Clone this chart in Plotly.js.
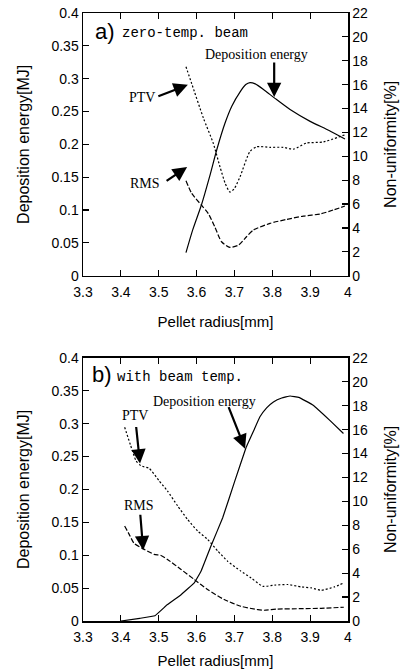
<!DOCTYPE html>
<html>
<head>
<meta charset="utf-8">
<script src="https://cdn.plot.ly/plotly-3.0.1.min.js"></script>
<style>html,body{margin:0;padding:0;background:#fff;}#chart{width:401px;height:670px;}</style>
</head>
<body>
<div id="chart"></div>
<script>
// ---- Panel a) zero-temp. beam ----
var aDepX = [3.572, 3.590, 3.613, 3.635, 3.653, 3.675, 3.693, 3.715, 3.730, 3.741, 3.755, 3.780, 3.807, 3.847, 3.900, 3.950, 3.992];
var aDepY = [0.035, 0.070, 0.108, 0.152, 0.191, 0.232, 0.258, 0.280, 0.291, 0.294, 0.292, 0.282, 0.270, 0.253, 0.235, 0.221, 0.208];
var aPtvX = [3.572, 3.587, 3.618, 3.644, 3.662, 3.676, 3.688, 3.700, 3.715, 3.741, 3.759, 3.794, 3.829, 3.856, 3.890, 3.935, 3.992];
var aPtvY = [17.5, 16.1, 13.2, 11.1, 9.1, 7.7, 7.0, 7.3, 8.3, 10.4, 10.8, 10.75, 10.75, 10.6, 11.1, 11.2, 11.8];
var aRmsX = [3.572, 3.587, 3.613, 3.631, 3.648, 3.666, 3.688, 3.711, 3.732, 3.750, 3.794, 3.838, 3.882, 3.926, 3.961, 3.992];
var aRmsY = [7.95, 6.9, 5.9, 5.2, 4.1, 2.84, 2.37, 2.56, 3.26, 3.82, 4.38, 4.71, 4.99, 5.16, 5.5, 5.83];

// ---- Panel b) with beam temp. ----
var bDepX = [3.400, 3.450, 3.490, 3.523, 3.559, 3.594, 3.612, 3.638, 3.669, 3.700, 3.731, 3.753, 3.767, 3.785, 3.803, 3.825, 3.847, 3.870, 3.908, 3.952, 3.988];
var bDepY = [0.000, 0.004, 0.008, 0.025, 0.040, 0.058, 0.076, 0.114, 0.157, 0.211, 0.264, 0.292, 0.310, 0.324, 0.333, 0.339, 0.342, 0.340, 0.328, 0.305, 0.285];
var bPtvX = [3.410, 3.426, 3.440, 3.453, 3.475, 3.501, 3.523, 3.550, 3.576, 3.603, 3.629, 3.656, 3.682, 3.717, 3.744, 3.775, 3.806, 3.841, 3.876, 3.903, 3.929, 3.964, 3.989];
var bPtvY = [16.2, 14.66, 13.4, 12.98, 12.76, 11.72, 10.88, 9.62, 8.5, 7.52, 6.83, 5.85, 5.0, 4.17, 3.6, 2.9, 3.0, 3.05, 2.85, 2.77, 2.57, 2.85, 3.19];
var bRmsX = [3.410, 3.422, 3.435, 3.462, 3.488, 3.506, 3.523, 3.559, 3.594, 3.629, 3.673, 3.717, 3.762, 3.779, 3.814, 3.876, 3.929, 3.989];
var bRmsY = [7.94, 7.24, 6.49, 5.99, 5.57, 5.48, 5.15, 4.31, 3.47, 2.63, 1.79, 1.23, 0.95, 0.90, 1.00, 1.03, 1.06, 1.15];

var xTitle = 'Pellet radius[mm]';
var yLeftTitle = 'Deposition energy[MJ]';
var yRightTitle = 'Non-uniformity[%]';
var panelTags = ['a)', 'b)'];
var panelNames = ['zero-temp. beam', 'with beam temp.'];

function ln(dash, sm) {
  var o = {color: '#000', width: 1.2, shape: 'spline', smoothing: sm};
  if (dash) o.dash = dash;
  return o;
}

var traces = [
  {x: aDepX, y: aDepY, xaxis: 'x', yaxis: 'y', mode: 'lines', line: ln(null, 0.6)},
  {x: aPtvX, y: aPtvY, xaxis: 'x', yaxis: 'y2', mode: 'lines', line: ln('2px,2px', 0.6)},
  {x: aRmsX, y: aRmsY, xaxis: 'x', yaxis: 'y2', mode: 'lines', line: ln('5px,2px', 0.6)},
  {x: bDepX, y: bDepY, xaxis: 'x2', yaxis: 'y3', mode: 'lines', line: ln(null, 0.2)},
  {x: bPtvX, y: bPtvY, xaxis: 'x2', yaxis: 'y4', mode: 'lines', line: ln('2px,2px', 0.5)},
  {x: bRmsX, y: bRmsY, xaxis: 'x2', yaxis: 'y4', mode: 'lines', line: ln('5px,2px', 0.5)}
];

var tickFont = {family: 'Liberation Sans, Arial, sans-serif', size: 14, color: '#000'};
var titleFont = {family: 'Liberation Sans, Arial, sans-serif', size: 15, color: '#000'};
var yTitleFont = {family: 'Liberation Sans, Arial, sans-serif', size: 16, color: '#000'};

function xAx(anchor, standoff) {
  return {anchor: anchor, range: [3.3, 4], dtick: 0.1, tick0: 3.3, ticks: 'inside', ticklen: 6,
    tickwidth: 1.2, tickcolor: '#000', showline: true, linecolor: '#000', linewidth: 1.5,
    mirror: 'ticks', showgrid: false, zeroline: false, tickfont: tickFont, ticklabelstandoff: 3,
    title: {text: xTitle, font: titleFont, standoff: standoff}};
}
function yLeft(anchor, domain) {
  return {anchor: anchor, domain: domain, range: [0, 0.4], dtick: 0.05, ticks: 'inside', ticklen: 6,
    tickwidth: 1.2, tickcolor: '#000', showline: true, linecolor: '#000', linewidth: 1.5,
    showgrid: false, zeroline: false, tickfont: tickFont,
    title: {text: yLeftTitle, font: yTitleFont, standoff: 18}};
}
function yRight(over, anchor) {
  return {overlaying: over, anchor: anchor, side: 'right', range: [0, 22], dtick: 2, ticks: 'inside', ticklen: 6,
    tickwidth: 1.2, tickcolor: '#000', showline: true, linecolor: '#000', linewidth: 1.5,
    showgrid: false, zeroline: false, tickfont: tickFont,
    title: {text: yRightTitle, font: yTitleFont, standoff: 17}};
}

var serif = {family: 'Liberation Serif, Times New Roman, serif', size: 14, color: '#000'};
var mono = {family: 'Liberation Mono, DejaVu Sans Mono, monospace', size: 14, color: '#000'};
var big = {family: 'Liberation Sans, Arial, sans-serif', size: 22, color: '#000'};

function arrow(xr, yr, x, y, ax, ay) {
  return {xref: xr, yref: yr, x: x, y: y, ax: ax, ay: ay, text: '', showarrow: true,
    arrowhead: 2, arrowsize: 1.3, arrowwidth: 2.2, arrowcolor: '#000', standoff: 0, startstandoff: 0};
}
function label(xr, yr, x, y, txt, font, xanchor) {
  return {xref: xr, yref: yr, x: x, y: y, text: txt, showarrow: false, font: font,
    xanchor: xanchor || 'center', yanchor: 'middle'};
}

var annotations = [
  label('x', 'y', 3.3264, 0.372, panelTags[0], big, 'left'),
  label('x', 'y', 3.3977, 0.370, panelNames[0], mono, 'left'),
  label('x', 'y', 3.7596, 0.3364, 'Deposition energy', serif),
  arrow('x', 'y', 3.805, 0.272, 0, -36),
  label('x', 'y', 3.4559, 0.2708, 'PTV', serif),
  arrow('x', 'y', 3.577, 0.2906, -31, 12),
  label('x', 'y', 3.4638, 0.1411, 'RMS', serif),
  arrow('x', 'y', 3.575, 0.1655, -22, 15),

  label('x2', 'y3', 3.3185, 0.375, panelTags[1], big, 'left'),
  label('x2', 'y3', 3.3845, 0.3707, panelNames[1], mono, 'left'),
  label('x2', 'y3', 3.621, 0.3331, 'Deposition energy', serif),
  arrow('x2', 'y3', 3.728, 0.262, -17, -43),
  label('x2', 'y3', 3.4374, 0.3129, 'PTV', serif),
  arrow('x2', 'y3', 3.4506, 0.2394, -4, -38),
  label('x2', 'y3', 3.4479, 0.176, 'RMS', serif),
  arrow('x2', 'y3', 3.459, 0.1075, -3, -37)
];

var layout = {
  width: 401, height: 670,
  margin: {l: 83, r: 52.5, t: 13, b: 49},
  paper_bgcolor: '#fff', plot_bgcolor: '#fff',
  showlegend: false,
  xaxis: xAx('y', 17),
  yaxis: yLeft('x', [0.568, 1]),
  yaxis2: yRight('y', 'x'),
  xaxis2: xAx('y3', 11),
  yaxis3: yLeft('x2', [0, 0.4328]),
  yaxis4: yRight('y3', 'x2'),
  annotations: annotations
};

Plotly.newPlot('chart', traces, layout, {staticPlot: true, displayModeBar: false});
</script>
</body>
</html>
